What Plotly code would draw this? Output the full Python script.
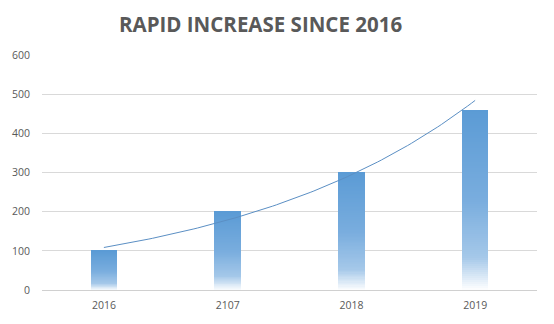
import numpy as np
import plotly.graph_objects as go

# Data
categories = ["2016", "2107", "2018", "2019"]
values = [100, 200, 300, 460]
y_ticks = [0, 100, 200, 300, 400, 500, 600]

title_text = "RAPID INCREASE SINCE 2016"

# Vertical gradient stops for the bar fill (0 = top of bar, 1 = bottom)
grad_stops = [(0.0, (91, 155, 213)), (0.5, (121, 173, 222)),
              (0.82, (165, 200, 233)), (1.0, (255, 255, 255))]


def grad_color(f):
    for (f0, c0), (f1, c1) in zip(grad_stops[:-1], grad_stops[1:]):
        if f0 <= f <= f1:
            t = (f - f0) / (f1 - f0) if f1 > f0 else 0
            c = [round(a + (b - a) * t) for a, b in zip(c0, c1)]
            return "rgb({},{},{})".format(*c)
    return "rgb(255,255,255)"


x_pos = np.arange(len(categories))
vals = np.array(values, dtype=float)

fig = go.Figure()

# Each bar is built from thin stacked slices so it can carry a vertical gradient
n_slices = 90
for k in range(n_slices):
    frac_bottom = k / n_slices
    from_top = 1 - (k + 0.5) / n_slices  # distance from top of bar, 0..1
    fig.add_trace(go.Bar(
        x=x_pos,
        y=vals / n_slices,
        base=vals * frac_bottom,
        width=0.215,
        marker=dict(color=grad_color(from_top), line=dict(width=0)),
        showlegend=False,
        hoverinfo="skip",
    ))

# Exponential trendline fitted to the values
b, ln_a = np.polyfit(x_pos + 1, np.log(vals), 1)
xt = np.linspace(x_pos[0], x_pos[-1], 100)
yt = np.exp(ln_a) * np.exp(b * (xt + 1))
fig.add_trace(go.Scatter(
    x=xt, y=yt, mode="lines",
    line=dict(color="#5b8fc4", width=1),
    showlegend=False, hoverinfo="skip",
))

fig.update_layout(
    width=554, height=324,
    margin=dict(l=36, r=17, t=55, b=33),
    paper_bgcolor="white", plot_bgcolor="white",
    barmode="overlay", bargap=0,
    font=dict(family="Open Sans, Liberation Sans, sans-serif", color="#595959", size=10),
    annotations=[dict(
        text="<b>" + title_text + "</b>",
        xref="paper", yref="paper", x=0.442, y=1, yanchor="bottom", xanchor="center",
        yshift=15, showarrow=False,
        font=dict(family="Open Sans, sans-serif", size=20.5, color="#595959"),
    )],
    xaxis=dict(
        range=[-0.5, 3.5], tickvals=list(x_pos), ticktext=categories,
        showgrid=False, zeroline=False, showline=False, ticks="",
        ticklabelstandoff=7,
        tickfont=dict(size=10.5, color="#595959"),
    ),
    yaxis=dict(
        range=[0, 600], tickvals=y_ticks, showgrid=True, gridcolor="#d9d9d9",
        gridwidth=1, zeroline=True, zerolinecolor="#d0d0d0", zerolinewidth=1,
        showline=False, ticks="", ticklabelstandoff=11,
        tickfont=dict(size=10.5, color="#595959"),
    ),
)

fig.write_html("out.html")
